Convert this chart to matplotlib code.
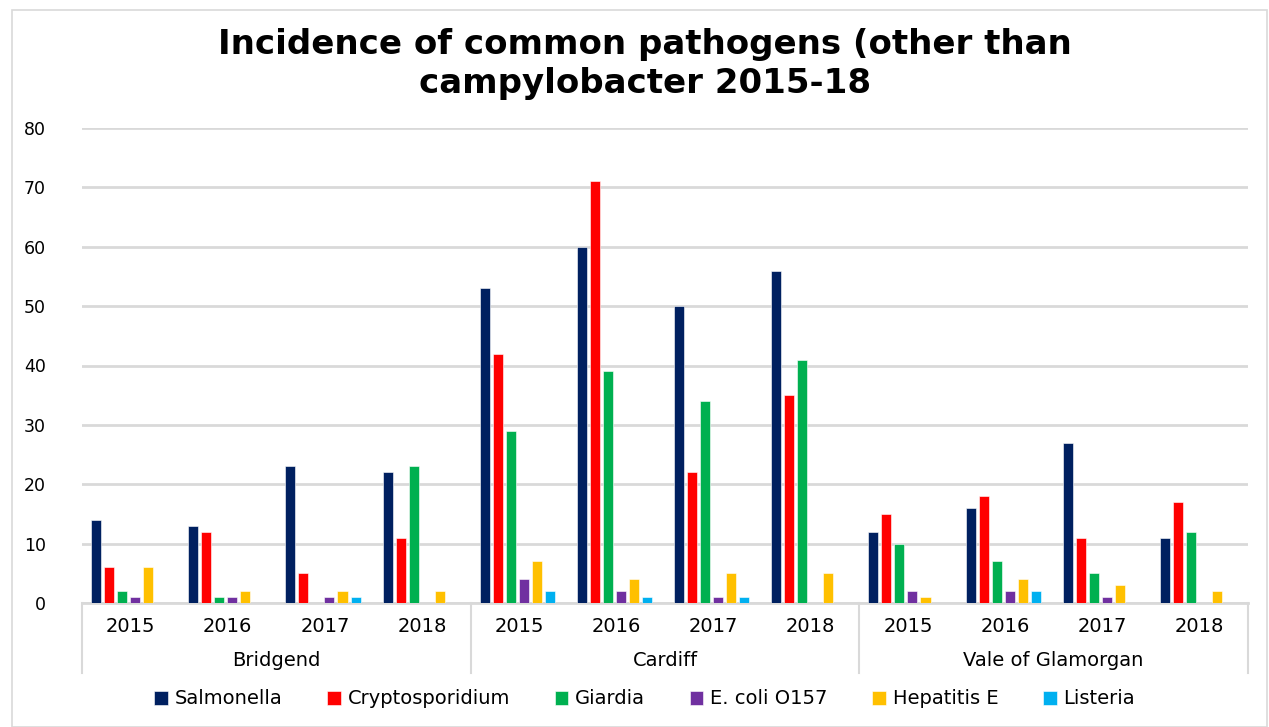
import matplotlib
matplotlib.use("Agg")
import matplotlib.pyplot as plt
import matplotlib.transforms as mtransforms
from matplotlib.patches import Rectangle

regions = ["Bridgend", "Cardiff", "Vale of Glamorgan"]
years = ["2015", "2016", "2017", "2018"]
series = ["Salmonella", "Cryptosporidium", "Giardia", "E. coli O157", "Hepatitis E", "Listeria"]
colors = ["#002060", "#FF0000", "#00B050", "#7030A0", "#FFC000", "#00B0F0"]

salmonella      = [14, 13, 23, 22, 53, 60, 50, 56, 12, 16, 27, 11]
cryptosporidium = [6, 12, 5, 11, 42, 71, 22, 35, 15, 18, 11, 17]
giardia         = [2, 1, 0, 23, 29, 39, 34, 41, 10, 7, 5, 12]
ecoli           = [1, 1, 1, 0, 4, 2, 1, 0, 2, 2, 1, 0]
hepatitis       = [6, 2, 2, 2, 7, 4, 5, 5, 1, 4, 3, 2]
listeria        = [0, 0, 1, 0, 2, 1, 1, 0, 0, 2, 0, 0]
values = [salmonella, cryptosporidium, giardia, ecoli, hepatitis, listeria]

FONT = "DejaVu Sans"

fig = plt.figure(figsize=(12.69, 7.27), dpi=100)
fig.patches.append(Rectangle((12/1269, 0), 1 - 12/1269 - 2/1269, 1 - 10/727,
                             transform=fig.transFigure, fill=False,
                             edgecolor="#d9d9d9", linewidth=1.2))
ax = fig.add_axes([82/1269, 1 - 603/727, (1248 - 82)/1269, (603 - 128)/727])

n = len(salmonella)
pitch = 0.134
width = 0.103
for k, (name, vals, c) in enumerate(zip(series, values, colors)):
    xs = [i + (k - 2.5) * pitch - 0.02 for i in range(n)]
    ax.bar(xs, vals, width=width, color=c, label=name, zorder=3,
           edgecolor="white", linewidth=0.4)

ax.set_xlim(-0.5, n - 0.5)
ax.set_ylim(0, 80)
ax.set_yticks(range(0, 81, 10))
ax.yaxis.grid(True, color="#d9d9d9", linewidth=2, zorder=0)
ax.set_axisbelow(True)
for s in ["top", "right", "left"]:
    ax.spines[s].set_visible(False)
ax.spines["bottom"].set_color("#d9d9d9")
ax.spines["bottom"].set_linewidth(2)
ax.tick_params(axis="y", length=0, labelsize=12.5, pad=26)
ax.tick_params(axis="x", length=0, labelbottom=False)
for lab in ax.get_yticklabels():
    lab.set_fontfamily(FONT)

trans = mtransforms.blended_transform_factory(ax.transData, ax.transAxes)
h = 475
for xb in [-0.5, 3.5, 7.5, 11.5]:
    ax.plot([xb, xb], [0, -70 / h], transform=trans, color="#d9d9d9",
            linewidth=1.5, clip_on=False)
for i in range(n):
    ax.text(i, -24 / h, years[i % 4], transform=trans, ha="center", va="center",
            fontsize=14, fontfamily=FONT)
for j, r in enumerate(regions):
    ax.text(4 * j + 1.5, -58 / h, r, transform=trans, ha="center", va="center",
            fontsize=14, fontfamily=FONT)

fig.text(0.508, 1 - 64/727, "Incidence of common pathogens (other than\ncampylobacter 2015-18",
         ha="center", va="center", fontsize=24.5, fontweight="bold",
         fontfamily=FONT, linespacing=1.2)

leg = fig.legend(loc="center", bbox_to_anchor=(0.508, 1 - 699/727), ncol=6,
                 frameon=False, handlelength=0.7, handleheight=0.7,
                 handletextpad=0.35, columnspacing=2.3,
                 prop={"family": FONT, "size": 14})

fig.savefig("out.png", dpi=100)
